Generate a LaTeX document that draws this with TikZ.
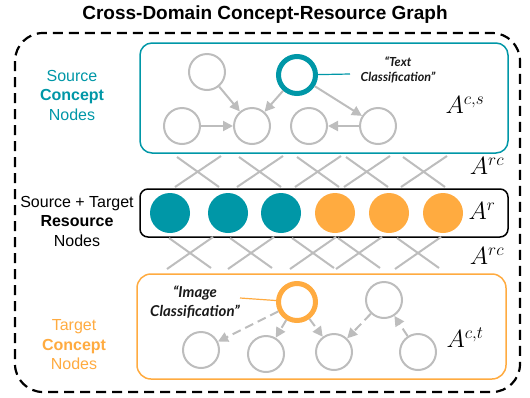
\documentclass[tikz,border=0pt]{standalone}
\usepackage{fontspec}
\setmainfont{Liberation Sans}
\newfontfamily\lato{Lato}
\usetikzlibrary{arrows.meta}
\definecolor{teal1}{HTML}{0097A7}
\definecolor{orng}{HTML}{FFAB40}
\definecolor{gry}{HTML}{BDBDBD}
\begin{document}
\begin{tikzpicture}[x=1pt,y=-1pt,
  gnode/.style={circle,draw=gry,line width=2pt,minimum size=36pt,inner sep=0pt},
  tnode/.style={circle,draw=teal1,line width=5pt,minimum size=37pt,inner sep=0pt},
  onode/.style={circle,draw=orng,line width=5pt,minimum size=37pt,inner sep=0pt},
  rtnode/.style={circle,fill=teal1,minimum size=40pt,inner sep=0pt},
  ronode/.style={circle,fill=orng,minimum size=40pt,inner sep=0pt},
  garrow/.style={draw=gry,line width=2pt,-{Triangle[length=10pt,width=10pt]}},
  gdarrow/.style={garrow,dash pattern=on 9pt off 5pt},
  xline/.style={draw=gry,line width=2pt},
  sidelbl/.style={align=center,font=\fontsize{16}{19.5}\selectfont},
  mlbl/.style={font=\fontsize{26}{30}\selectfont},
  quote/.style={align=center,font=\lato\bfseries\itshape\fontsize{12.5}{15}\selectfont,text=black!90}
]
\useasboundingbox (0,0) rectangle (530,397);
% title
\node[font=\bfseries\fontsize{19}{22}\selectfont] (title) at (265,15) {Cross-Domain Concept-Resource Graph};
% outer dashed box
\draw[line width=2.2pt,dash pattern=on 10pt off 6pt,rounded corners=28pt] (15,33) rectangle (520,392);
% boxes
\draw[teal1,line width=1.5pt,rounded corners=12pt] (140,43) rectangle (508,153);
\draw[black,line width=1.5pt,rounded corners=8pt] (140,189) rectangle (508,237);
\draw[orng,line width=1.5pt,rounded corners=14pt] (137,274) rectangle (506,379);
% side labels
\node[sidelbl,text=teal1] (lsrc) at (72,95) {Source\\\textbf{Concept}\\Nodes};
\node[sidelbl] (lres) at (77,221) {Source + Target\\\textbf{Resource}\\Nodes};
\node[sidelbl,text=orng] (ltgt) at (74,345) {Target\\\textbf{Concept}\\Nodes};
% cross lines upper
\foreach \cx in {198,260,318,367,424}{
  \draw[xline] (\cx-23,187) -- (\cx+23,156);
  \draw[xline] (\cx-21,157) -- (\cx+21,187);
}
% cross lines lower
\foreach \cx in {190,251,313,359,418}{
  \draw[xline] (\cx-23,269) -- (\cx+23,237);
  \draw[xline] (\cx-21,238) -- (\cx+21,268);
}
% source concept nodes
\node[gnode] (c1) at (207,72) {};
\node[tnode] (ct) at (297,75) {};
\node[gnode] (c2) at (182,126) {};
\node[gnode] (c3) at (252,126) {};
\node[gnode] (c4) at (309,126) {};
\node[gnode] (c5) at (378,126) {};
\draw[garrow] (c1) -- (c3);
\draw[garrow] (c2) -- (c3);
\draw[garrow] (ct) -- (c3);
\draw[garrow] (ct) -- (c5);
\draw[garrow] (c5) -- (c4);
\node[quote] (tq) at (398,70) {“Text\\Classification”};
\coordinate (tqa) at (350,74);
\draw[teal1,line width=1.2pt] (ct) -- (tqa);
% resource nodes
\node[rtnode] (r1) at (170,213) {};
\node[rtnode] (r2) at (228,213) {};
\node[rtnode] (r3) at (281,213) {};
\node[ronode] (r4) at (335,213) {};
\node[ronode] (r5) at (389,213) {};
\node[ronode] (r6) at (443,213) {};
% target concept nodes
\node[onode] (ot) at (297,302) {};
\node[gnode] (g1) at (384,300) {};
\node[gnode] (b1) at (201,350) {};
\node[gnode] (b2) at (266,354) {};
\node[gnode] (b3) at (334,352) {};
\node[gnode] (b4) at (418,352) {};
\draw[gdarrow] (ot) -- (b1);
\draw[gdarrow] (ot) -- (b2);
\draw[gdarrow] (ot) -- (b3);
\draw[gdarrow] (g1) -- (b3);
\draw[gdarrow] (b4) -- (g1);
\node[quote,font=\lato\bfseries\itshape\fontsize{15}{19}\selectfont] (iq) at (195,302) {“Image\\Classification”};
\coordinate (iqa) at (240,298);
\draw[orng,line width=1.2pt] (ot) -- (iqa);
% matrix labels
\node[mlbl] (acs) at (465,105) {$A^{c,s}$};
\node[mlbl] (arc1) at (487,166) {$A^{rc}$};
\node[mlbl] (ar) at (482,211) {$A^{r}$};
\node[mlbl] (arc2) at (487,256) {$A^{rc}$};
\node[mlbl] (act) at (465,338) {$A^{c,t}$};
\end{tikzpicture}
\end{document}
